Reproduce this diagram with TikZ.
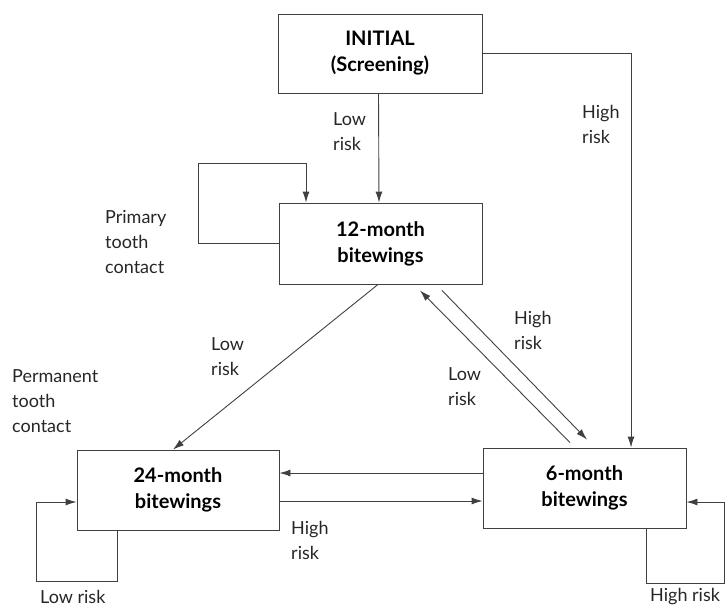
\documentclass[tikz,border=0pt]{standalone}
\usepackage{fontspec}
\setmainfont{Lato}
\usetikzlibrary{arrows.meta}
\tikzset{
  box/.style={draw=black!75, line width=0.9pt, minimum width=203pt, minimum height=80pt, inner sep=0pt, align=center, font=\fontsize{20}{26}\selectfont\bfseries},
  lbl/.style={anchor=west, inner sep=0pt, align=left, font=\fontsize{18}{25}\selectfont, text=black!85},
  conn/.style={draw=black!75, line width=0.9pt},
  arr/.style={conn, -{Latex[length=11pt,width=7pt]}}
}
\begin{document}
\begin{tikzpicture}[x=1pt,y=-1pt]
\useasboundingbox (0,0) rectangle (726,606);
\node[box, minimum width=204pt, minimum height=79pt] (init) at (380,53.5) {INITIAL\\(Screening)};
\node[box, minimum height=81pt] (m12) at (380.5,243.5) {12-month\\bitewings};
\node[box, minimum width=202pt] (m24) at (178,490) {24-month\\bitewings};
\node[box] (m6) at (584.5,488) {6-month\\bitewings};
\coordinate (l12) at (198,163);
\coordinate (l24) at (36,581);
\coordinate (l6) at (724,583);
% connectors
\draw[arr] ([xshift=-1.5pt]init.south) -- ([xshift=-1.5pt]m12.north);
\draw[arr] (m12.west) -| (l12) -| ([xshift=-74.5pt]m12.north);
\draw[arr] (init.east) -| ([xshift=46.5pt]m6.north);
\draw[arr] ([xshift=-2.5pt]m12.south) -- ([xshift=-5pt]m24.north);
\draw[arr] ([xshift=-14.5pt,yshift=5pt]m6.north) -- ([xshift=39.5pt,yshift=-6pt]m12.south);
\draw[arr] ([xshift=61.5pt,yshift=-6pt]m12.south) -- ([xshift=2.5pt,yshift=8pt]m6.north);
\draw[arr] ([yshift=15pt]m6.west) -- ([yshift=15pt]m6.west -| m24.east);
\draw[arr] ([yshift=-11pt]m24.east) -- ([yshift=-11pt]m24.east -| m6.west);
\draw[arr] ([xshift=-61pt]m24.south) |- (l24) |- ([yshift=-12pt]m24.west);
\draw[arr] ([xshift=61.5pt]m6.south) |- (l6) |- ([yshift=-14pt]m6.east);
% labels
\node[lbl] (t1) at (333,131.5) {Low\\risk};
\node[lbl] (t2) at (582,124.5) {High\\risk};
\node[lbl] (t3) at (105,242) {Primary\\tooth\\contact};
\node[lbl] (t4) at (211,357) {Low\\risk};
\node[lbl] (t5) at (12,401) {Permanent\\tooth\\contact};
\node[lbl] (t6) at (514,330.5) {High\\risk};
\node[lbl] (t7) at (448,387) {Low\\risk};
\node[lbl] (t8) at (291,540) {High\\risk};
\node[lbl] (t9) at (40,597) {Low risk};
\node[lbl] (t10) at (650,597) {High risk};
\end{tikzpicture}
\end{document}
